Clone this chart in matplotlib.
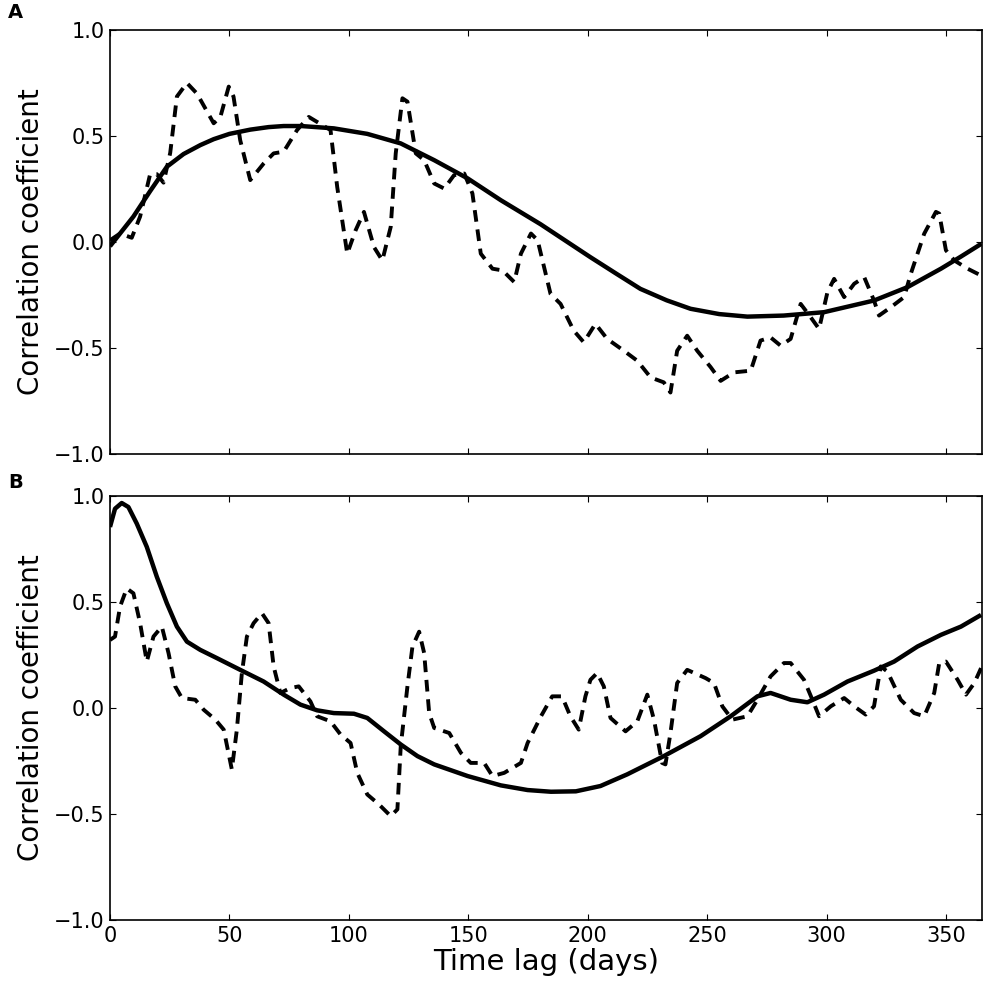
import matplotlib
matplotlib.use("Agg")
import matplotlib.pyplot as plt
import numpy as np

# panel A: solid curve
a_solid_x = [0, 4.9, 9.8, 16.8, 23.8, 30.8, 37.8, 43.4, 50, 58.7, 66.4, 72.7, 80, 93.7, 107.7,
             121.7, 135.7, 149.7, 163.6, 180.2, 201, 212, 222, 233, 243, 255, 266.8, 282, 298.9,
             319.8, 333.8, 347.8, 356, 364.8]
a_solid_y = [-0.02, 0.05, 0.12, 0.24, 0.355, 0.415, 0.457, 0.485, 0.51, 0.53, 0.542, 0.547, 0.547,
             0.536, 0.51, 0.465, 0.386, 0.30, 0.197, 0.084, -0.071, -0.15, -0.221, -0.275,
             -0.315, -0.34, -0.352, -0.347, -0.331, -0.276, -0.213, -0.126, -0.07, -0.008]

# panel A: dashed curve
a_dash_x = [0, 4.2, 9.1, 12.6, 16.8, 19.6, 22.4, 25.2, 28, 32.2, 36.4, 43.4, 46.2, 49.7, 51.7,
            54.5, 58.7, 64.3, 68.5, 72.7, 78.3, 83.2, 88.8, 92.3, 95.1, 99.3, 102.8, 106.3,
            110.5, 114, 117.5, 119.6, 122.4, 124.5, 128, 131.5, 135.7, 139.9, 144, 148.3,
            151.7, 155.2, 160.1, 164.3, 169.2, 172, 176.2, 179, 184.4, 188.6, 194.1, 198.3,
            203.2, 208.1, 215.1, 220.7, 226.3, 231.8, 234.6, 237.4, 241.6, 245.8, 251.4,
            255.6, 261.2, 268.2, 272.3, 276.5, 280.7, 284.9, 289.1, 293.3, 296.8, 300.3,
            303.1, 307.3, 311.5, 315.7, 319.8, 321.9, 326.8, 332.4, 335.2, 340.8, 345.7,
            347.1, 349.9, 353.4, 359, 364.6]
a_dash_y = [0.008, 0.04, 0.02, 0.12, 0.32, 0.32, 0.28, 0.42, 0.686, 0.75, 0.70, 0.56, 0.59, 0.733,
            0.686, 0.48, 0.292, 0.37, 0.418, 0.426, 0.528, 0.59, 0.552, 0.528, 0.26, -0.055,
            0.055, 0.142, -0.024, -0.087, 0.071, 0.418, 0.678, 0.662, 0.418, 0.386, 0.276,
            0.252, 0.315, 0.323, 0.229, -0.055, -0.126, -0.134, -0.189, -0.055, 0.04, 0.008,
            -0.245, -0.292, -0.418, -0.473, -0.386, -0.457, -0.513, -0.56, -0.639, -0.662,
            -0.71, -0.513, -0.442, -0.513, -0.59, -0.655, -0.615, -0.607, -0.465, -0.45,
            -0.489, -0.457, -0.292, -0.355, -0.41, -0.237, -0.174, -0.26, -0.197, -0.166,
            -0.276, -0.347, -0.308, -0.26, -0.15, 0.039, 0.142, 0.134, -0.039, -0.087,
            -0.126, -0.158]

# panel B: solid curve
b_solid_x = [0, 2.1, 4.9, 7.7, 11.2, 15.4, 19.6, 23.8, 28, 32.2, 37.8, 44.8, 54.5, 64.3, 72.7,
             79.7, 86.7, 93.7, 102.1, 107.7, 114.7, 121.7, 128.7, 135.7, 149.7, 163.6, 174.8,
             184.6, 195, 205.3, 216.5, 231.8, 247.2, 259.8, 271, 276.5, 284.9, 291.9, 298.9,
             308.7, 319.8, 328.2, 338, 347.8, 356.2, 364.6]
b_solid_y = [0.854, 0.94, 0.967, 0.948, 0.87, 0.76, 0.619, 0.494, 0.384, 0.313, 0.274, 0.235,
             0.18, 0.125, 0.063, 0.016, -0.011, -0.024, -0.027, -0.047, -0.11, -0.172, -0.227,
             -0.266, -0.321, -0.365, -0.387, -0.395, -0.393, -0.368, -0.313, -0.227, -0.133,
             -0.039, 0.055, 0.071, 0.039, 0.027, 0.063, 0.125, 0.176, 0.219, 0.29, 0.345,
             0.384, 0.439]

# panel B: dashed curve
b_dash_x = [0, 2.1, 4.2, 7, 9.8, 12.6, 15.4, 18.2, 21.7, 24.5, 27.3, 30.1, 35.7, 39.2, 44.1,
            47.6, 51, 53.1, 55.2, 57.3, 60.1, 63.6, 66.4, 68.5, 71.3, 75.5, 79, 83.9, 86.7,
            92.3, 96.5, 100.7, 103.5, 107.7, 112.6, 117.5, 120.3, 121.7, 124.5, 126.6, 129.4,
            131.5, 133.6, 135.7, 142, 146.9, 151, 156.6, 160.1, 165, 172, 174.8, 180.4,
            185.1, 189.2, 192.7, 196.2, 199, 201.1, 203.9, 206.7, 209.5, 215.8, 220.7, 224.9,
            227.7, 231.1, 232.5, 234.6, 237.4, 241.6, 249.3, 252.8, 256.3, 260.5, 266.8,
            271, 276.5, 282.1, 284.9, 290.5, 294, 296.8, 301.7, 307.3, 311.5, 316.3, 319.8,
            322.6, 325.4, 331, 336.6, 340.8, 345, 347.1, 349.9, 354.8, 358.3, 361.8, 364.6]
b_dash_y = [0.321, 0.337, 0.478, 0.564, 0.541, 0.4, 0.219, 0.337, 0.384, 0.259, 0.102, 0.047,
            0.039, -0.008, -0.055, -0.102, -0.29, -0.102, 0.165, 0.337, 0.4, 0.447, 0.4, 0.196,
            0.071, 0.094, 0.102, 0.031, -0.039, -0.063, -0.125, -0.165, -0.306, -0.408,
            -0.455, -0.51, -0.478, -0.18, 0.102, 0.29, 0.36, 0.259, -0.024, -0.094, -0.118,
            -0.212, -0.259, -0.259, -0.321, -0.306, -0.259, -0.165, -0.039, 0.055, 0.055,
            -0.039, -0.102, 0.055, 0.133, 0.165, 0.102, -0.047, -0.11, -0.063, 0.063, -0.055,
            -0.259, -0.266, -0.118, 0.118, 0.18, 0.141, 0.118, 0.008, -0.055, -0.039, 0.039,
            0.149, 0.212, 0.212, 0.133, 0.039, -0.039, 0.008, 0.047, 0.008, -0.031, 0.008,
            0.196, 0.172, 0.039, -0.024, -0.039, 0.071, 0.212, 0.219, 0.133, 0.063, 0.118,
            0.188]

y_ticks = [-1.0, -0.5, 0.0, 0.5, 1.0]
y_labels = ["\u22121.0", "\u22120.5", "0.0", "0.5", "1.0"]
x_ticks = [0, 50, 100, 150, 200, 250, 300, 350]

fig = plt.figure(figsize=(10, 10), dpi=100)
ax_a = fig.add_axes([0.11, 0.546, 0.872, 0.424])
ax_b = fig.add_axes([0.11, 0.08, 0.872, 0.424])

for ax, sx, sy, dx, dy in [(ax_a, a_solid_x, a_solid_y, a_dash_x, a_dash_y),
                           (ax_b, b_solid_x, b_solid_y, b_dash_x, b_dash_y)]:
    ax.plot(sx, sy, color='black', lw=3.2, solid_capstyle='butt')
    ax.plot(dx, dy, color='black', lw=2.8, linestyle=(0, (3.0, 2.0)))
    ax.set_xlim(0, 365)
    ax.set_ylim(-1, 1)
    ax.set_xticks(x_ticks)
    ax.set_yticks(y_ticks)
    ax.set_yticklabels(y_labels)
    ax.tick_params(direction='in', top=True, right=True, length=4, width=0.8,
                   labelsize=15, pad=4)
    ax.set_ylabel('Correlation coefficient', fontsize=20, labelpad=6)
    for s in ax.spines.values():
        s.set_linewidth(1.2)

ax_a.set_xticklabels([])
ax_b.set_xlabel('Time lag (days)', fontsize=21, labelpad=2)

fig.text(0.008, 0.978, 'A', fontsize=14, fontweight='bold', va='bottom')
fig.text(0.008, 0.508, 'B', fontsize=14, fontweight='bold', va='bottom')

fig.savefig('out.png', dpi=100, facecolor='white')
